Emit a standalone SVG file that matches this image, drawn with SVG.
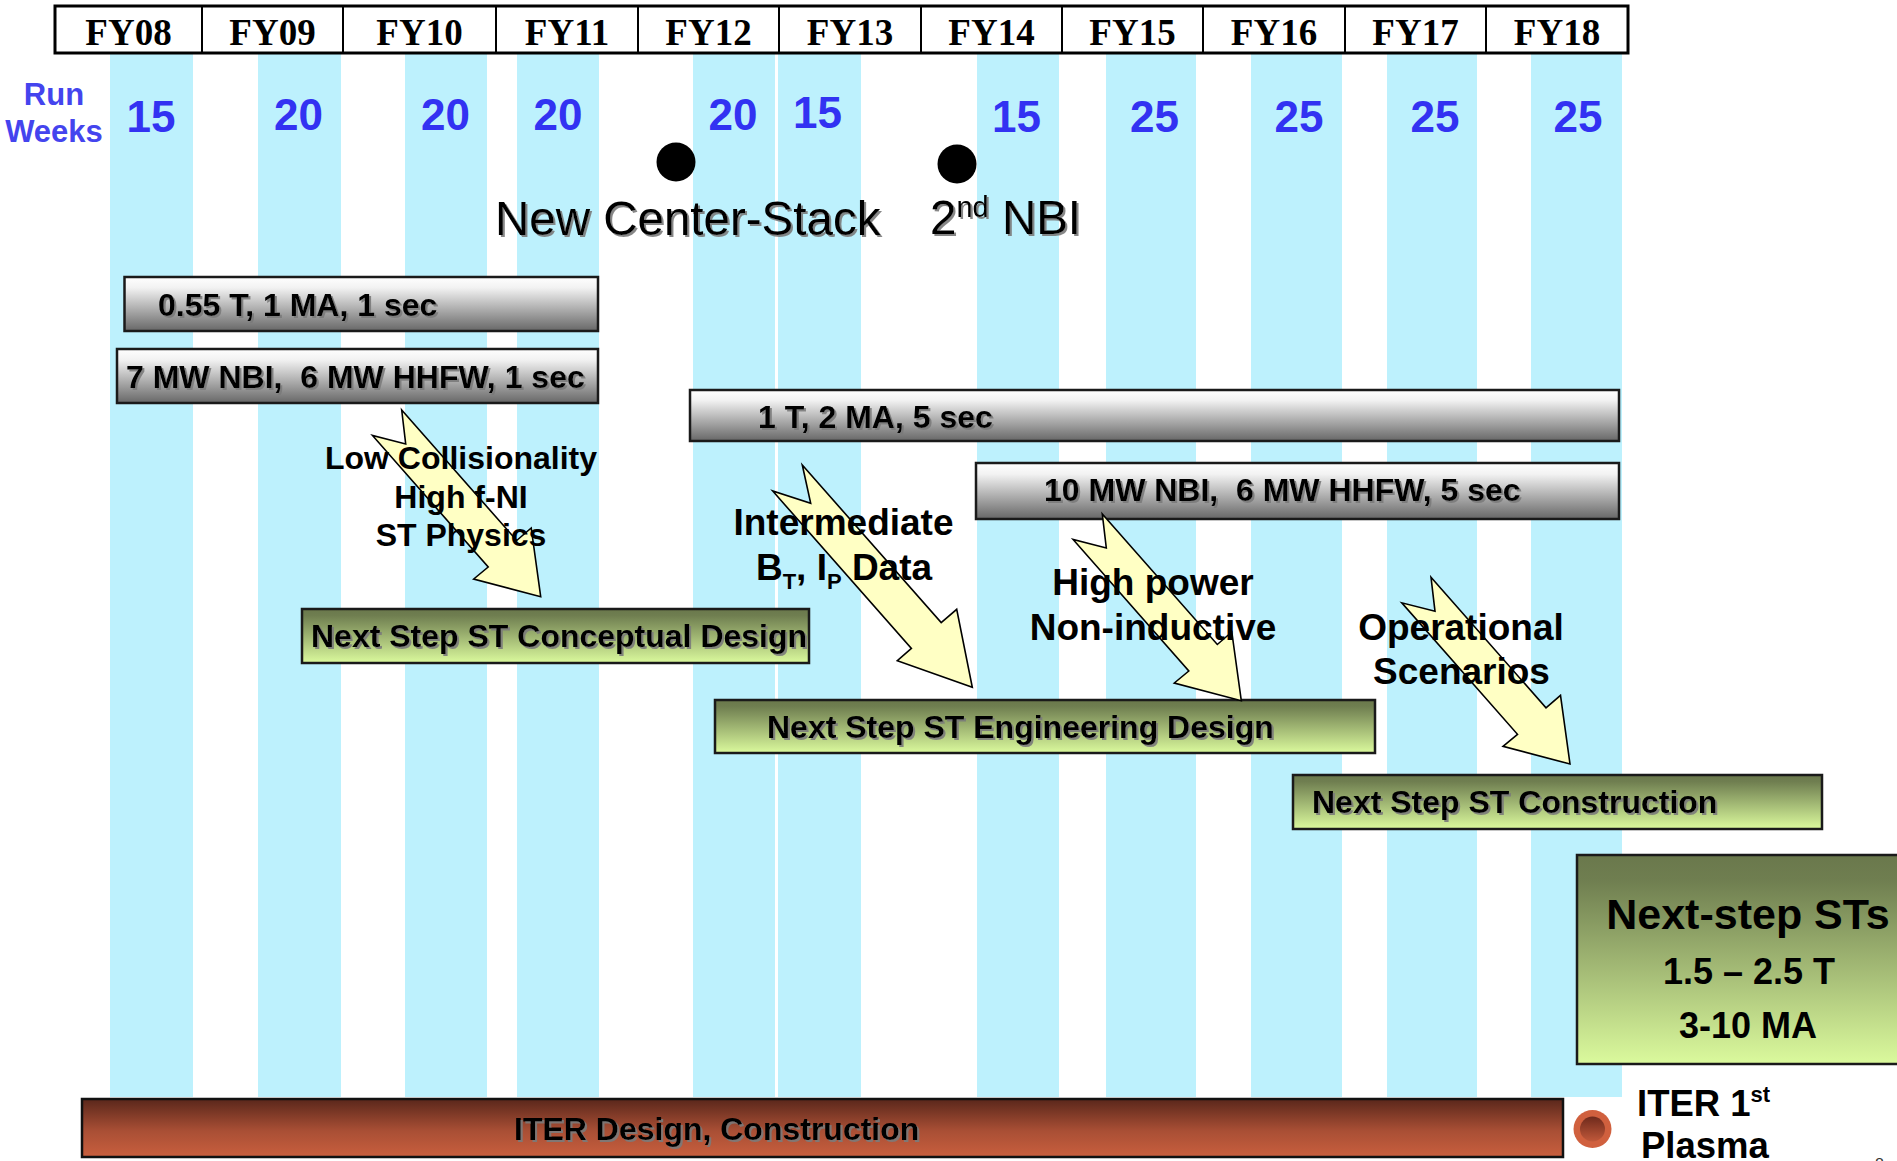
<svg xmlns="http://www.w3.org/2000/svg" width="1897" height="1161" viewBox="0 0 1897 1161">
<style>
.stripe{fill:#BDF1FD}
.fy{font-family:"Liberation Serif","Times New Roman",serif;font-weight:bold;font-size:37px;text-anchor:middle;fill:#000}
.rw{font-family:"Liberation Sans",Arial,sans-serif;font-weight:bold;fill:#3232F2;font-size:44px;text-anchor:middle}
.rwl{font-family:"Liberation Sans",Arial,sans-serif;font-weight:bold;fill:#4444EE;font-size:31px;text-anchor:middle}
.ms{font-family:"Liberation Sans",Arial,sans-serif;font-size:47.5px;fill:#000}
.bt{font-family:"Liberation Sans",Arial,sans-serif;font-weight:bold;font-size:32px;fill:#000;white-space:pre}
.lbl{font-family:"Liberation Sans",Arial,sans-serif;font-weight:bold;fill:#000;text-anchor:middle}
.gray{fill:url(#gGray);stroke:#1a1a1a;stroke-width:2.5}
.green{fill:url(#gGreen);stroke:#1a1a1a;stroke-width:2.5}
.arrow{fill:#FFFFC4;stroke:#000;stroke-width:1.6;stroke-linejoin:miter}
</style>
<defs>
<linearGradient id="gGray" x1="0" y1="0" x2="0" y2="1">
<stop offset="0" stop-color="#ffffff"/>
<stop offset="0.2" stop-color="#f2f2f2"/>
<stop offset="1" stop-color="#676767"/>
</linearGradient>
<linearGradient id="gGreen" x1="0" y1="0" x2="0" y2="1">
<stop offset="0" stop-color="#6a784c"/>
<stop offset="0.12" stop-color="#6f7e50"/>
<stop offset="1" stop-color="#dbfa9d"/>
</linearGradient>
<linearGradient id="gIter" x1="0" y1="0" x2="0" y2="1">
<stop offset="0" stop-color="#5a271b"/>
<stop offset="0.55" stop-color="#a94f35"/>
<stop offset="1" stop-color="#c95f3e"/>
</linearGradient>
<linearGradient id="gDot" x1="0" y1="0" x2="0" y2="1">
<stop offset="0" stop-color="#6e2a1c"/>
<stop offset="1" stop-color="#c0583a"/>
</linearGradient>
<filter id="sh" x="-5%" y="-30%" width="110%" height="160%">
<feDropShadow dx="2" dy="2" stdDeviation="0.6" flood-color="#7a7a7a" flood-opacity="0.9"/>
</filter>
</defs>
<rect width="1897" height="1161" fill="#ffffff"/>

<g id="stripes">
<rect class="stripe" x="110" y="53" width="83" height="1044"/>
<rect class="stripe" x="258" y="53" width="83" height="1044"/>
<rect class="stripe" x="405" y="53" width="82" height="1044"/>
<rect class="stripe" x="517" y="53" width="82" height="1044"/>
<rect class="stripe" x="693" y="53" width="82" height="1044"/>
<rect class="stripe" x="778" y="53" width="83" height="1044"/>
<rect class="stripe" x="977" y="53" width="82" height="1044"/>
<rect class="stripe" x="1106" y="53" width="90" height="1044"/>
<rect class="stripe" x="1251" y="53" width="91" height="1044"/>
<rect class="stripe" x="1387" y="53" width="90" height="1044"/>
<rect class="stripe" x="1531" y="53" width="91" height="1044"/>
</g>

<g id="header">
<rect x="55" y="6" width="1573" height="47" fill="#fff" stroke="#000" stroke-width="3"/>
<g stroke="#000" stroke-width="2">
<line x1="202" y1="6" x2="202" y2="53"/><line x1="343" y1="6" x2="343" y2="53"/>
<line x1="496" y1="6" x2="496" y2="53"/><line x1="638" y1="6" x2="638" y2="53"/>
<line x1="779" y1="6" x2="779" y2="53"/><line x1="921" y1="6" x2="921" y2="53"/>
<line x1="1062" y1="6" x2="1062" y2="53"/><line x1="1203" y1="6" x2="1203" y2="53"/>
<line x1="1345" y1="6" x2="1345" y2="53"/><line x1="1486" y1="6" x2="1486" y2="53"/>
</g>
<text class="fy" x="128.5" y="45">FY08</text>
<text class="fy" x="272.5" y="45">FY09</text>
<text class="fy" x="419.5" y="45">FY10</text>
<text class="fy" x="567" y="45">FY11</text>
<text class="fy" x="708.5" y="45">FY12</text>
<text class="fy" x="850" y="45">FY13</text>
<text class="fy" x="991.5" y="45">FY14</text>
<text class="fy" x="1132.5" y="45">FY15</text>
<text class="fy" x="1274" y="45">FY16</text>
<text class="fy" x="1415.5" y="45">FY17</text>
<text class="fy" x="1557" y="45">FY18</text>
</g>

<g id="run-weeks">
<text class="rwl" x="54" y="105">Run</text>
<text class="rwl" x="54" y="142">Weeks</text>
<text class="rw" x="151" y="132">15</text>
<text class="rw" x="298.5" y="130">20</text>
<text class="rw" x="445.5" y="130">20</text>
<text class="rw" x="558" y="130">20</text>
<text class="rw" x="733" y="130">20</text>
<text class="rw" x="817.5" y="128">15</text>
<text class="rw" x="1016.5" y="132">15</text>
<text class="rw" x="1154.5" y="132">25</text>
<text class="rw" x="1299" y="132">25</text>
<text class="rw" x="1435" y="132">25</text>
<text class="rw" x="1578" y="132">25</text>
</g>

<g id="milestone-center-stack">
<circle cx="676" cy="162" r="19.5" fill="#000"/>
<text class="ms" x="495" y="235" filter="url(#sh)">New Center-Stack</text>
</g>
<g id="milestone-2nd-nbi">
<circle cx="957" cy="164" r="19.5" fill="#000"/>
<text class="ms" x="930" y="234" font-size="48.5" filter="url(#sh)">2<tspan font-size="29" dy="-17">nd</tspan><tspan dy="17"> NBI</tspan></text>
</g>

<g id="bar-055T">
<rect class="gray" x="124.5" y="277" width="473.5" height="54"/>
<text class="bt" x="158" y="316" filter="url(#sh)">0.55 T, 1 MA, 1 sec</text>
</g>
<g id="bar-7MW">
<rect class="gray" x="117" y="349" width="481" height="54"/>
<text class="bt" x="126" y="388" filter="url(#sh)" xml:space="preserve">7 MW NBI,  6 MW HHFW, 1 sec</text>
</g>
<g id="bar-1T">
<rect class="gray" x="690" y="390" width="929" height="51"/>
<text class="bt" x="758" y="428" filter="url(#sh)">1 T, 2 MA, 5 sec</text>
</g>
<g id="bar-10MW">
<rect class="gray" x="976" y="463" width="643" height="56"/>
<text class="bt" x="1044" y="501" filter="url(#sh)" xml:space="preserve">10 MW NBI,  6 MW HHFW, 5 sec</text>
</g>

<g id="conceptual-design">
<rect class="green" x="302" y="609" width="507" height="54"/>
<text class="bt" x="311" y="647" filter="url(#sh)">Next Step ST Conceptual Design</text>
</g>
<g id="engineering-design">
<rect class="green" x="715" y="700" width="660" height="53"/>
<text class="bt" x="767" y="738" filter="url(#sh)">Next Step ST Engineering Design</text>
</g>
<g id="construction">
<rect class="green" x="1293" y="775" width="529" height="54"/>
<text class="bt" x="1312" y="813" filter="url(#sh)">Next Step ST Construction</text>
</g>

<g id="iter-design">
<rect x="82" y="1099" width="1481" height="58" fill="url(#gIter)" stroke="#111" stroke-width="2.5"/>
<text class="bt" x="514" y="1140" filter="url(#sh)">ITER Design, Construction</text>
</g>

<g id="connectors">
<polygon class="arrow" points="401.7,410 516.7,540.5 531.2,528 540.7,596.7 473.7,579 488.2,567 372.5,435.5 405.7,444"/>
<polygon class="arrow" points="802.3,465 941.2,622.6 956.7,609.3 972.3,687.3 897.3,660.7 911.4,648.4 772.7,491 810.7,503.3"/>
<polygon class="arrow" points="1102.3,514 1217.3,644.5 1231.8,632 1241.3,700.7 1174.3,683 1188.8,671 1073.1,539.5 1106.3,548"/>
<polygon class="arrow" points="1431,577.3 1546,707.8 1560.5,695.3 1570,764 1503,746.3 1517.5,734.3 1401.8,602.8 1435,611.3"/>
</g>

<g id="label-physics">
<text class="lbl" x="461" y="469" font-size="32">Low Collisionality</text>
<text class="lbl" x="461" y="508" font-size="32">High f-NI</text>
<text class="lbl" x="461" y="546" font-size="32">ST Physics</text>
</g>
<g id="label-intermediate">
<text class="lbl" x="843.5" y="535" font-size="37">Intermediate</text>
<text class="lbl" x="844" y="580" font-size="37">B<tspan font-size="22" dy="9">T</tspan><tspan dy="-9">, I</tspan><tspan font-size="22" dy="9">P</tspan><tspan dy="-9"> Data</tspan></text>
</g>
<g id="label-high-power">
<text class="lbl" x="1153" y="595" font-size="37">High power</text>
<text class="lbl" x="1153" y="640" font-size="37">Non-inductive</text>
</g>
<g id="label-operational">
<text class="lbl" x="1461" y="640" font-size="37">Operational</text>
<text class="lbl" x="1461.5" y="684" font-size="37">Scenarios</text>
</g>

<g id="next-step-sts">
<rect class="green" x="1577" y="855" width="345" height="209"/>
<text class="lbl" x="1748" y="929" font-size="43">Next-step STs</text>
<text class="lbl" x="1749" y="984" font-size="36">1.5 – 2.5 T</text>
<text class="lbl" x="1748" y="1038" font-size="36">3-10 MA</text>
</g>

<g id="iter-first-plasma">
<circle cx="1592.5" cy="1129" r="19" fill="#D0603E"/>
<circle cx="1592.5" cy="1129" r="12.5" fill="url(#gDot)"/>
<text class="lbl" x="1637" y="1116" font-size="36.5" style="text-anchor:start">ITER 1<tspan font-size="22" dy="-14">st</tspan></text>
<text class="lbl" x="1641" y="1158" font-size="36.5" style="text-anchor:start">Plasma</text>
</g>
<text x="1875" y="1170" font-family="Liberation Sans, Arial, sans-serif" font-size="16" fill="#333">8</text>
</svg>
